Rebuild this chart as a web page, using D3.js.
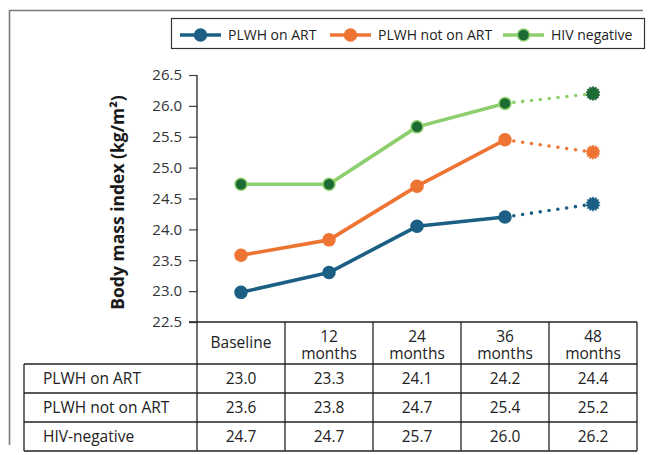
<!DOCTYPE html>
<html><head><meta charset="utf-8">
<script src="https://cdn.jsdelivr.net/npm/d3@7"></script>
<style>body{margin:0;background:#fff}svg{display:block;font-family:"Open Sans",sans-serif}</style>
</head><body><svg id="c" width="649" height="455"></svg>
<script>
const categories = ["Baseline", "12 months", "24 months", "36 months", "48 months"];
const headerLines = [["Baseline"], ["12", "months"], ["24", "months"], ["36", "months"], ["48", "months"]];
const seriesNames = ["PLWH on ART", "PLWH not on ART", "HIV negative"];
const rowLabels = ["PLWH on ART", "PLWH not on ART", "HIV-negative"];
const onART = [22.98, 23.3, 24.05, 24.2, 24.41];
const notOnART = [23.58, 23.83, 24.7, 25.45, 25.25];
const hivNeg = [24.73, 24.73, 25.66, 26.04, 26.2];
const tableOnART = ["23.0", "23.3", "24.1", "24.2", "24.4"];
const tableNotOnART = ["23.6", "23.8", "24.7", "25.4", "25.2"];
const tableHivNeg = ["24.7", "24.7", "25.7", "26.0", "26.2"];
const yTicks = [22.5, 23.0, 23.5, 24.0, 24.5, 25.0, 25.5, 26.0, 26.5];

const colors = [
  {line: "#1b5f84", marker: "#1b5f84", outline: "#1b5f84"},
  {line: "#ee7434", marker: "#ee7434", outline: "#ee7434"},
  {line: "#8dcf6c", marker: "#1c6b35", outline: "#8dcf6c"}
];
const series = [onART, notOnART, hivNeg];
const tableRows = [tableOnART, tableNotOnART, tableHivNeg];

const svg = d3.select("#c");
const x = d3.scaleBand().domain(categories).range([197, 637]).padding(0);
const cx = c => x(c) + x.bandwidth() / 2;
const y = d3.scaleLinear().domain([22.5, 26.5]).range([322, 75]);

// outer frame (left + top)
svg.append("path").attr("d", "M9.5,445 V10.5 H643").attr("fill", "none").attr("stroke", "#7a7a7a").attr("stroke-width", 1.6);

// y axis
const yAxis = d3.axisLeft(y).tickValues(yTicks).tickFormat(d3.format(".1f")).tickSize(8).tickPadding(7);
const ga = svg.append("g").attr("transform", "translate(197,0)").call(yAxis);
ga.select(".domain").remove();
ga.selectAll(".tick line").attr("stroke", "#444").attr("stroke-width", 1.2);
ga.selectAll(".tick text").attr("font-size", 15).attr("fill", "#333").attr("font-family", "'Open Sans',sans-serif");
svg.append("line").attr("x1", 197).attr("x2", 197).attr("y1", y(26.5)).attr("y2", 451).attr("stroke", "#222").attr("stroke-width", 1.3);

// axis title
svg.append("text").attr("transform", `translate(124,${(y(22.5)+y(26.5))/2+4}) rotate(-90)`)
  .attr("text-anchor", "middle").attr("font-weight", "bold").attr("font-size", 17.5).attr("fill", "#1a1a1a")
  .text("Body mass index (kg/m²)");

// table
const rowTop = 364, rowH = 29;
const tg = svg.append("g").attr("stroke", "#222").attr("stroke-width", 1.3);
tg.append("line").attr("x1", 189).attr("x2", 637).attr("y1", 322).attr("y2", 322);
[0,1,2,3].forEach(i => {
  tg.append("line").attr("x1", 24).attr("x2", 637).attr("y1", rowTop + i*rowH).attr("y2", rowTop + i*rowH);
});
tg.append("line").attr("x1", 24).attr("x2", 24).attr("y1", rowTop).attr("y2", rowTop + 3*rowH);
categories.forEach(c => {
  tg.append("line").attr("x1", x(c) + x.bandwidth()).attr("x2", x(c) + x.bandwidth()).attr("y1", 322).attr("y2", rowTop + 3*rowH);
});
categories.forEach((c, i) => {
  const lines = headerLines[i];
  const t = svg.append("text").attr("text-anchor", "middle").attr("font-size", 15.5).attr("fill", "#222");
  if (lines.length === 1) {
    t.append("tspan").attr("x", cx(c)).attr("y", 348).text(lines[0]);
  } else {
    t.append("tspan").attr("x", cx(c)).attr("y", 342).text(lines[0]);
    t.append("tspan").attr("x", cx(c)).attr("y", 359).text(lines[1]);
  }
});
tableRows.forEach((row, r) => {
  const ym = rowTop + r*rowH + rowH/2 + 5.5;
  svg.append("text").attr("x", 43).attr("y", ym).attr("font-size", 15.5).attr("fill", "#222").text(rowLabels[r]);
  row.forEach((v, i) => {
    svg.append("text").attr("x", cx(categories[i])).attr("y", ym).attr("text-anchor", "middle")
      .attr("font-size", 15.5).attr("fill", "#222").text(v);
  });
});

// star marker path
function starPath(ro, ri, n) {
  const pts = [];
  for (let k = 0; k < 2*n; k++) {
    const a = Math.PI * k / n;
    const r = k % 2 ? ri : ro;
    pts.push([Math.sin(a)*r, -Math.cos(a)*r]);
  }
  return "M" + pts.map(p => p.join(",")).join("L") + "Z";
}

// lines
const line = d3.line().x(d => cx(d.c)).y(d => y(d.v));
series.forEach((vals, s) => {
  const pts = vals.map((v, i) => ({c: categories[i], v}));
  const col = colors[s];
  svg.append("path").datum(pts.slice(0, 4)).attr("d", line).attr("fill", "none")
    .attr("stroke", col.line).attr("stroke-width", 3.6).attr("stroke-linejoin", "round");
  svg.append("path").datum(pts.slice(3, 5)).attr("d", line).attr("fill", "none")
    .attr("stroke", col.line).attr("stroke-width", 3.6).attr("stroke-linecap", "round").attr("stroke-dasharray", "0 8.9");
  pts.slice(0, 4).forEach(p => {
    svg.append("circle").attr("cx", cx(p.c)).attr("cy", y(p.v)).attr("r", 6)
      .attr("fill", col.marker).attr("stroke", col.outline).attr("stroke-width", 1.5);
  });
  const last = pts[4];
  svg.append("path").attr("transform", `translate(${cx(last.c)},${y(last.v)})`)
    .attr("d", starPath(7.2, 5.6, 14)).attr("fill", col.marker).attr("stroke", s === 2 ? "#145428" : col.marker).attr("stroke-width", 0.6);
});

// legend
const lg = svg.append("g");
lg.append("rect").attr("x", 171.5).attr("y", 18.5).attr("width", 473).attr("height", 30)
  .attr("fill", "#fff").attr("stroke", "#333").attr("stroke-width", 1.2);
const legX = [180, 330, 503];
seriesNames.forEach((n, s) => {
  const col = colors[s];
  const g = lg.append("g").attr("transform", `translate(${legX[s]},35)`);
  g.append("line").attr("x1", 0).attr("x2", 41).attr("y1", 0).attr("y2", 0).attr("stroke", col.line).attr("stroke-width", 3.6);
  g.append("circle").attr("cx", 20.5).attr("cy", 0).attr("r", 6).attr("fill", col.marker).attr("stroke", col.outline).attr("stroke-width", 1.5);
  g.append("text").attr("x", 48).attr("y", 5).attr("font-size", 14).attr("fill", "#222").text(n);
});
</script></body></html>
